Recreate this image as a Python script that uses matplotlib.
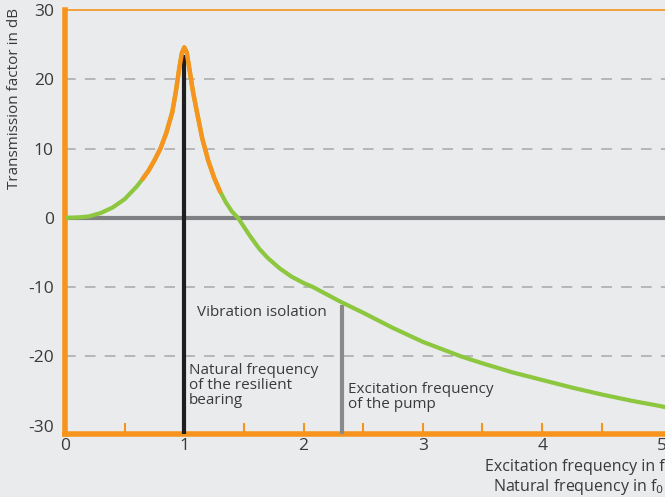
import matplotlib
matplotlib.use("Agg")
import matplotlib.pyplot as plt
import numpy as np

# --- data ---
ratio = [0.0, 0.1, 0.2, 0.3, 0.4, 0.5, 0.6, 0.65, 0.7, 0.75, 0.8, 0.85, 0.9,
         0.93, 0.96, 0.98, 1.0, 1.02, 1.04, 1.07, 1.1, 1.15, 1.2, 1.25, 1.3,
         1.35, 1.4, 1.45, 1.5, 1.55, 1.63, 1.7, 1.8, 1.9, 2.0, 2.08, 2.2, 2.32,
         2.5, 2.75, 3.0, 3.32, 3.5, 3.75, 4.0, 4.25, 4.5, 4.75, 5.0, 5.05]
gain_db = [0.0, 0.05, 0.2, 0.7, 1.5, 2.7, 4.5, 5.6, 6.8, 8.3, 10.0, 12.3, 15.3,
           18.3, 21.8, 23.8, 24.6, 23.9, 21.8, 18.5, 15.8, 11.5, 8.3, 5.8, 3.8,
           2.2, 0.9, 0.0, -1.3, -2.6, -4.5, -5.8, -7.3, -8.5, -9.4, -10.0, -11.1, -12.2,
           -13.7, -15.9, -17.9, -20.0, -21.0, -22.3, -23.4, -24.5, -25.5, -26.4, -27.2, -27.4]
resonance_band = (0.65, 1.3)
natural_freq = 1.0
natural_top = 23.5
pump_freq = 2.32
pump_top = -12.6

x_ticks = [0, 1, 2, 3, 4, 5]
inner_ticks = [0.5, 1.5, 2.0, 2.5, 3.0, 3.5, 4.0, 4.5]
y_ticks = [-30, -20, -10, 0, 10, 20, 30]
grid_levels = [-20, -10, 10, 20]

BG = "#EAEBED"
ORANGE = "#F7941D"
GREEN = "#8DC63F"
INK = "#3A3A3A"

plt.rcParams["font.family"] = ["Open Sans", "DejaVu Sans"]

fig = plt.figure(figsize=(6.65, 4.97), dpi=100, facecolor=BG)
ax = fig.add_axes([65 / 665, 63 / 497, 1 - 65 / 665, (434 - 10) / 497])
ax.set_facecolor(BG)
ax.set_xlim(0, 5.03)
ax.set_ylim(-31.2, 30)

for lvl in grid_levels:
    ax.axhline(lvl, color="#A8A8A8", lw=1.1, ls=(0, (7, 6)), zorder=1)
ax.axhline(0, color="#7F8083", lw=3, zorder=2)

r = np.array(ratio)
g = np.array(gain_db)
ax.plot(r, g, color=GREEN, lw=3, solid_capstyle="round", zorder=4)
band = (r >= resonance_band[0]) & (r <= resonance_band[1])
ax.plot(r[band], g[band], color=ORANGE, lw=3.2, solid_capstyle="round", zorder=5)

ax.vlines(natural_freq, -31.2, natural_top, color="#1E1E1E", lw=3, zorder=4)
ax.vlines(pump_freq, -31.2, pump_top, color="#8A8A8A", lw=3, zorder=3)

# short orange ticks standing on the bottom axis
for t in inner_ticks:
    ax.plot([t, t], [-31.2, -29.6], color=ORANGE, lw=1.5, zorder=3,
            solid_capstyle="butt")

ax.text(1.11, -13.6, "Vibration isolation", fontsize=11, color=INK,
        ha="left", va="center")
ax.text(1.04, -20.9, "Natural frequency\nof the resilient\nbearing", fontsize=11,
        color=INK, ha="left", va="top", linespacing=1.0)
ax.text(pump_freq + 0.05, -23.7, "Excitation frequency\nof the pump", fontsize=11,
        color=INK, ha="left", va="top", linespacing=1.0)

ax.spines["right"].set_visible(False)
ax.spines["left"].set_color(ORANGE)
ax.spines["left"].set_linewidth(4)
ax.spines["bottom"].set_color(ORANGE)
ax.spines["bottom"].set_linewidth(4)
ax.spines["top"].set_color(ORANGE)
ax.spines["top"].set_linewidth(1.2)

ax.set_xticks(x_ticks)
ax.set_xticklabels([str(v) for v in x_ticks])
ax.set_yticks(y_ticks)
ax.set_yticklabels([str(v) for v in y_ticks])
ax.tick_params(axis="both", length=0, labelsize=12.5, labelcolor=INK)
ax.tick_params(axis="x", pad=3)
ax.tick_params(axis="y", pad=8)

fig.text(15 / 665, 1 - 98 / 497, "Transmission factor in dB", fontsize=11,
         color=INK, rotation=90, ha="center", va="center")

fig.text(0.999, 30 / 497, "Excitation frequency in f", fontsize=11.5, color=INK,
         ha="right", va="center")
fig.text(0.999, 10 / 497, r"Natural frequency in f$_0$", fontsize=11.5, color=INK,
         ha="right", va="center")

fig.savefig("out.png", dpi=100, facecolor=BG)
